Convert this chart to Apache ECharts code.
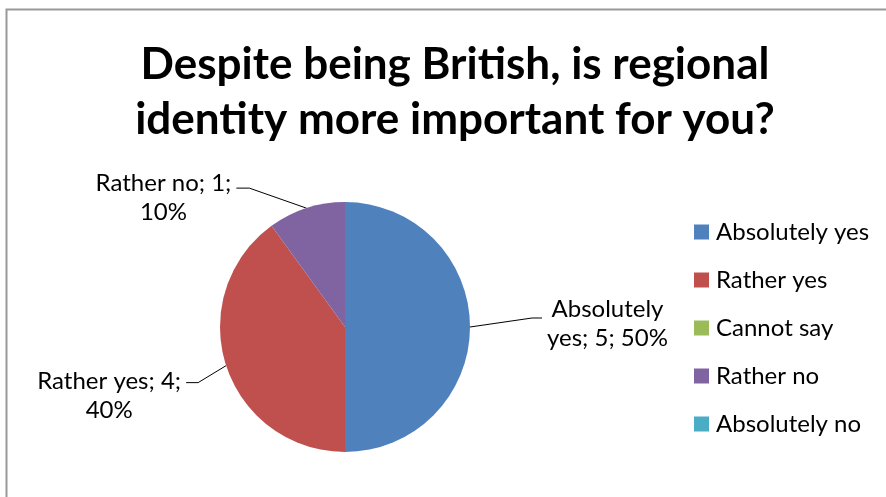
<!DOCTYPE html>
<html>
<head>
<meta charset="utf-8">
<title>Regional identity</title>
<script src="https://cdn.jsdelivr.net/npm/echarts@6/dist/echarts.min.js"></script>
<style>
  html, body { margin: 0; padding: 0; background: #ffffff; }
  #chart { width: 886px; height: 497px; }
</style>
</head>
<body>
<div id="chart"></div>
<script>
// Survey answers and counts
const categories = ['Absolutely yes', 'Rather yes', 'Cannot say', 'Rather no', 'Absolutely no'];
const counts = [5, 4, 0, 1, 0];
const colors = ['#4F81BD', '#C0504D', '#9BBB59', '#8064A2', '#4BACC6'];
const titleText = 'Despite being British, is regional\nidentity more important for you?';

const FONT = 'Lato, "Liberation Sans", sans-serif';
const LABEL_SIZE = 24;
const LABEL_LINE_H = 29;

// Leader-line shape per slice: elbow offset from the slice edge, horizontal tail
// length, and the vertical offset of the label block from the tail end.
const leaderShapes = {
  0: { elbow: [62, -9], tail: 10, shiftY: 6 },
  1: { elbow: [-28, 17], tail: 12, shiftY: 13 },
  3: { elbow: [-57, -20], tail: 13, shiftY: 10 }
};

// Greedy word wrap for the data labels, measured with the label font
const measureCtx = document.createElement('canvas').getContext('2d');
measureCtx.font = LABEL_SIZE + 'px ' + FONT;
function wrapText(text, maxWidth) {
  const words = text.split(' ');
  const lines = [];
  let line = '';
  words.forEach(w => {
    const trial = line ? line + ' ' + w : w;
    if (line && measureCtx.measureText(trial).width > maxWidth) {
      lines.push(line);
      line = w;
    } else {
      line = trial;
    }
  });
  if (line) lines.push(line);
  return lines;
}

const chart = echarts.init(document.getElementById('chart'), null, { renderer: 'canvas' });

const option = {
  backgroundColor: '#ffffff',
  color: colors,
  animation: false,
  title: {
    text: titleText,
    left: 450,
    textAlign: 'center',
    top: 32,
    textStyle: {
      fontFamily: FONT,
      fontSize: 44,
      fontWeight: 'bold',
      color: '#000000',
      lineHeight: 55
    }
  },
  legend: {
    orient: 'vertical',
    left: 689,
    top: 215,
    icon: 'rect',
    itemWidth: 15,
    itemHeight: 15,
    itemGap: 24,
    data: categories,
    textStyle: {
      fontFamily: FONT,
      fontSize: LABEL_SIZE,
      color: '#000000',
      lineHeight: 24,
      padding: [0, 0, 0, 2]
    }
  },
  graphic: [{
    type: 'rect',
    silent: true,
    shape: { x: 6.5, y: 9.5, width: 1000, height: 600 },
    style: { fill: 'none', stroke: '#999999', lineWidth: 2 }
  }],
  series: [{
    type: 'pie',
    center: [345, 327],
    radius: 125,
    startAngle: 90,
    clockwise: true,
    minShowLabelAngle: 1,
    avoidLabelOverlap: false,
    itemStyle: { borderWidth: 0 },
    emphasis: { disabled: true },
    label: {
      show: true,
      position: 'outside',
      color: '#000000',
      fontFamily: FONT,
      fontSize: LABEL_SIZE,
      lineHeight: LABEL_LINE_H,
      formatter: p => {
        const lines = wrapText(p.name + '; ' + p.value + '; ' + Math.round(p.percent) + '%', 150);
        return lines.map(l => '{c|' + l + '}').join('\n');
      },
      rich: {
        c: { align: 'center', fontFamily: FONT, fontSize: LABEL_SIZE, lineHeight: LABEL_LINE_H, color: '#000000' }
      }
    },
    labelLine: {
      show: true,
      length: 30,
      length2: 10,
      lineStyle: { color: '#000000', width: 1 }
    },
    labelLayout: params => {
      const shape = leaderShapes[params.dataIndex];
      const pts = params.labelLinePoints;
      if (!shape || !pts) return {};
      const start = pts[0];
      const dir = shape.elbow[0] >= 0 ? 1 : -1;
      const elbow = [start[0] + shape.elbow[0], start[1] + shape.elbow[1]];
      const end = [elbow[0] + dir * shape.tail, elbow[1]];
      return {
        x: end[0] + dir * 5,
        y: end[1] + shape.shiftY,
        align: dir > 0 ? 'left' : 'right',
        verticalAlign: 'middle',
        labelLinePoints: [start, elbow, end]
      };
    },
    data: categories.map((name, i) => ({ name: name, value: counts[i] }))
  }]
};

chart.setOption(option);
</script>
</body>
</html>
